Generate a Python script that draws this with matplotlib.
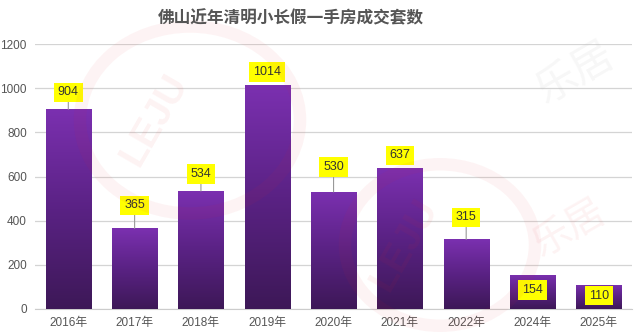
import numpy as np
import matplotlib.pyplot as plt
from matplotlib.patches import Ellipse
from matplotlib.colors import LinearSegmentedColormap

plt.rcParams['font.family'] = ['Liberation Sans', 'Noto Sans CJK SC', 'DejaVu Sans']

years = ['2016年', '2017年', '2018年', '2019年', '2020年', '2021年', '2022年', '2024年', '2025年']
deals = [904, 365, 534, 1014, 530, 637, 315, 154, 110]
# label offset in pixels relative to bar top (positive = above)
label_offsets = [17, 23, 17, 13, 25, 13, 22, -15, -11]

title = '佛山近年清明小长假一手房成交套数'

fig = plt.figure(figsize=(6.39, 3.36), dpi=100)
ax = fig.add_axes([0.055, 0.0804, 0.934, 0.7886])

x = np.arange(len(years))
bars = ax.bar(x, deals, width=0.68, color='none', zorder=3)

# vertical gradient for each bar
grad = np.linspace(0, 1, 256).reshape(-1, 1)
cmap = LinearSegmentedColormap.from_list('pp', ['#3d1857', '#5a2284', '#7b30b0'])
for b in bars:
    x0, w, h = b.get_x(), b.get_width(), b.get_height()
    im = ax.imshow(grad, extent=[x0, x0 + w, 0, h], origin='lower', cmap=cmap,
                   aspect='auto', zorder=3)
    im.set_clip_path(b)

ax.set_xlim(-0.5, len(years) - 0.5)
ax.set_ylim(0, 1200)
ax.set_yticks([0, 200, 400, 600, 800, 1000, 1200])
ax.set_xticks(x)
ax.set_xticklabels(years)
ax.grid(axis='y', color='#d4d4d4', linewidth=0.9, zorder=0)
ax.set_axisbelow(True)
for s in ['top', 'right', 'left']:
    ax.spines[s].set_visible(False)
ax.spines['bottom'].set_color('#cccccc')
ax.tick_params(axis='both', length=0, labelsize=8.5, colors='#555555')
ax.tick_params(axis='x', pad=6)
ax.tick_params(axis='y', pad=6)

for xi, v, off in zip(x, deals, label_offsets):
    ax.annotate(str(v), xy=(xi, v), xytext=(0, off * 0.72), textcoords='offset points',
                ha='center', va='center', fontsize=9, color='#333333', zorder=6,
                bbox=dict(boxstyle='square,pad=0.3', fc='#ffff00', ec='none'),
                arrowprops=dict(arrowstyle='-', color='#999999', lw=0.8, shrinkA=0, shrinkB=0)
                if off > 14 else None)

# faint watermark
for cx, cy, r in [(190, 120, 110), (440, 245, 95)]:
    e = Ellipse((cx / 639, 1 - cy / 336), 2 * r / 639, 2 * r / 336 * 0.85,
                transform=fig.transFigure, fill=False, ec='#e8262d', lw=9, alpha=0.05)
    fig.add_artist(e)
    fig.text((cx - 35) / 639, 1 - cy / 336, 'LEJU', fontsize=28, fontweight='bold', rotation=60,
             color='#e8262d', alpha=0.06, ha='center', va='center')
fig.text(0.9, 0.78, '乐居', fontsize=30, color='#bbbbbb', alpha=0.12, rotation=30,
         ha='center', va='center', family='Noto Sans CJK SC')
fig.text(0.89, 0.32, '乐居', fontsize=28, color='#e8262d', alpha=0.06, rotation=30,
         ha='center', va='center', family='Noto Sans CJK SC')

fig.text(0.455, 0.945, title, ha='center', va='center', fontsize=12, fontweight='bold',
         color='#555555', family='Noto Sans CJK SC')

fig.savefig('out.png', dpi=100)
